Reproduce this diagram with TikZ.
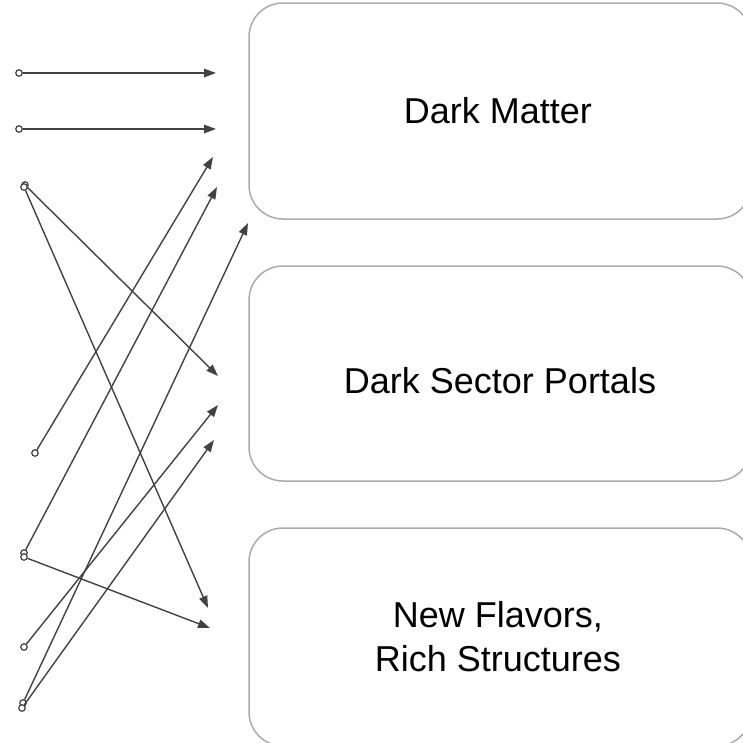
\documentclass[tikz,border=0pt]{standalone}
\usepackage{fontspec}
\setmainfont{Liberation Sans}
\usetikzlibrary{arrows.meta}
\definecolor{linec}{HTML}{424242}
\definecolor{boxc}{HTML}{ABABAB}
\begin{document}
\begin{tikzpicture}[x=1pt,y=-1pt,
  box/.style={draw=boxc, line width=1.5pt, rounded corners=34pt, minimum width=502pt, inner sep=0pt},
  src/.style={circle, draw=linec, fill=white, line width=1.2pt, minimum size=6.5pt, inner sep=0pt},
  conn/.style={draw=linec, line width=1.4pt, -{Triangle[length=12pt,width=8.5pt]}},
  lbl/.style={font=\fontsize{36}{44}\selectfont, inner sep=0pt, align=center}]
\useasboundingbox (0,0) rectangle (743,742);
\clip (0,0) rectangle (743,742);
% boxes
\node[box, minimum height=216pt] (b1) at (500,111) {};
\node[box, minimum height=215pt] (b2) at (500,373.5) {};
\node[box, minimum height=218pt] (b3) at (500,637) {};
% labels
\node[lbl, anchor=base] (l1) at (498,123) {Dark Matter};
\node[lbl, anchor=base] (l2) at (500,393) {Dark Sector Portals};
\node[lbl] (l3) at (498,637) {New Flavors,\\Rich Structures};
% arrow ends
\coordinate (t1) at (216,73);
\coordinate (t2) at (216,129);
\coordinate (t3) at (218,376);
\coordinate (t4) at (208,608);
\coordinate (t5) at (210,628);
\coordinate (ta) at (213,157);
\coordinate (tb) at (217,187);
\coordinate (tc) at (248,223);
\coordinate (td) at (218,405);
\coordinate (te) at (214,440);
% source circles
\node[src] (s1) at (19,73) {};
\node[src] (s2) at (19,129) {};
\node[src] (s3a) at (25,185) {};
\node[src] (s3b) at (24,187) {};
\node[src] (s4) at (35,453) {};
\node[src] (s5a) at (24,553) {};
\node[src] (s5b) at (24,557) {};
\node[src] (s6) at (24,647) {};
\node[src] (s7a) at (23,703) {};
\node[src] (s7b) at (22,708) {};
% connectors
\draw[conn] (s1) -- (t1);
\draw[conn] (s2) -- (t2);
\draw[conn] (s3a) -- (t3);
\draw[conn] (s3b) -- (t4);
\draw[conn] (s4) -- (ta);
\draw[conn] (s5a) -- (tb);
\draw[conn] (s5b) -- (t5);
\draw[conn] (s6) -- (td);
\draw[conn] (s7a) -- (tc);
\draw[conn] (s7b) -- (te);
\end{tikzpicture}
\end{document}
